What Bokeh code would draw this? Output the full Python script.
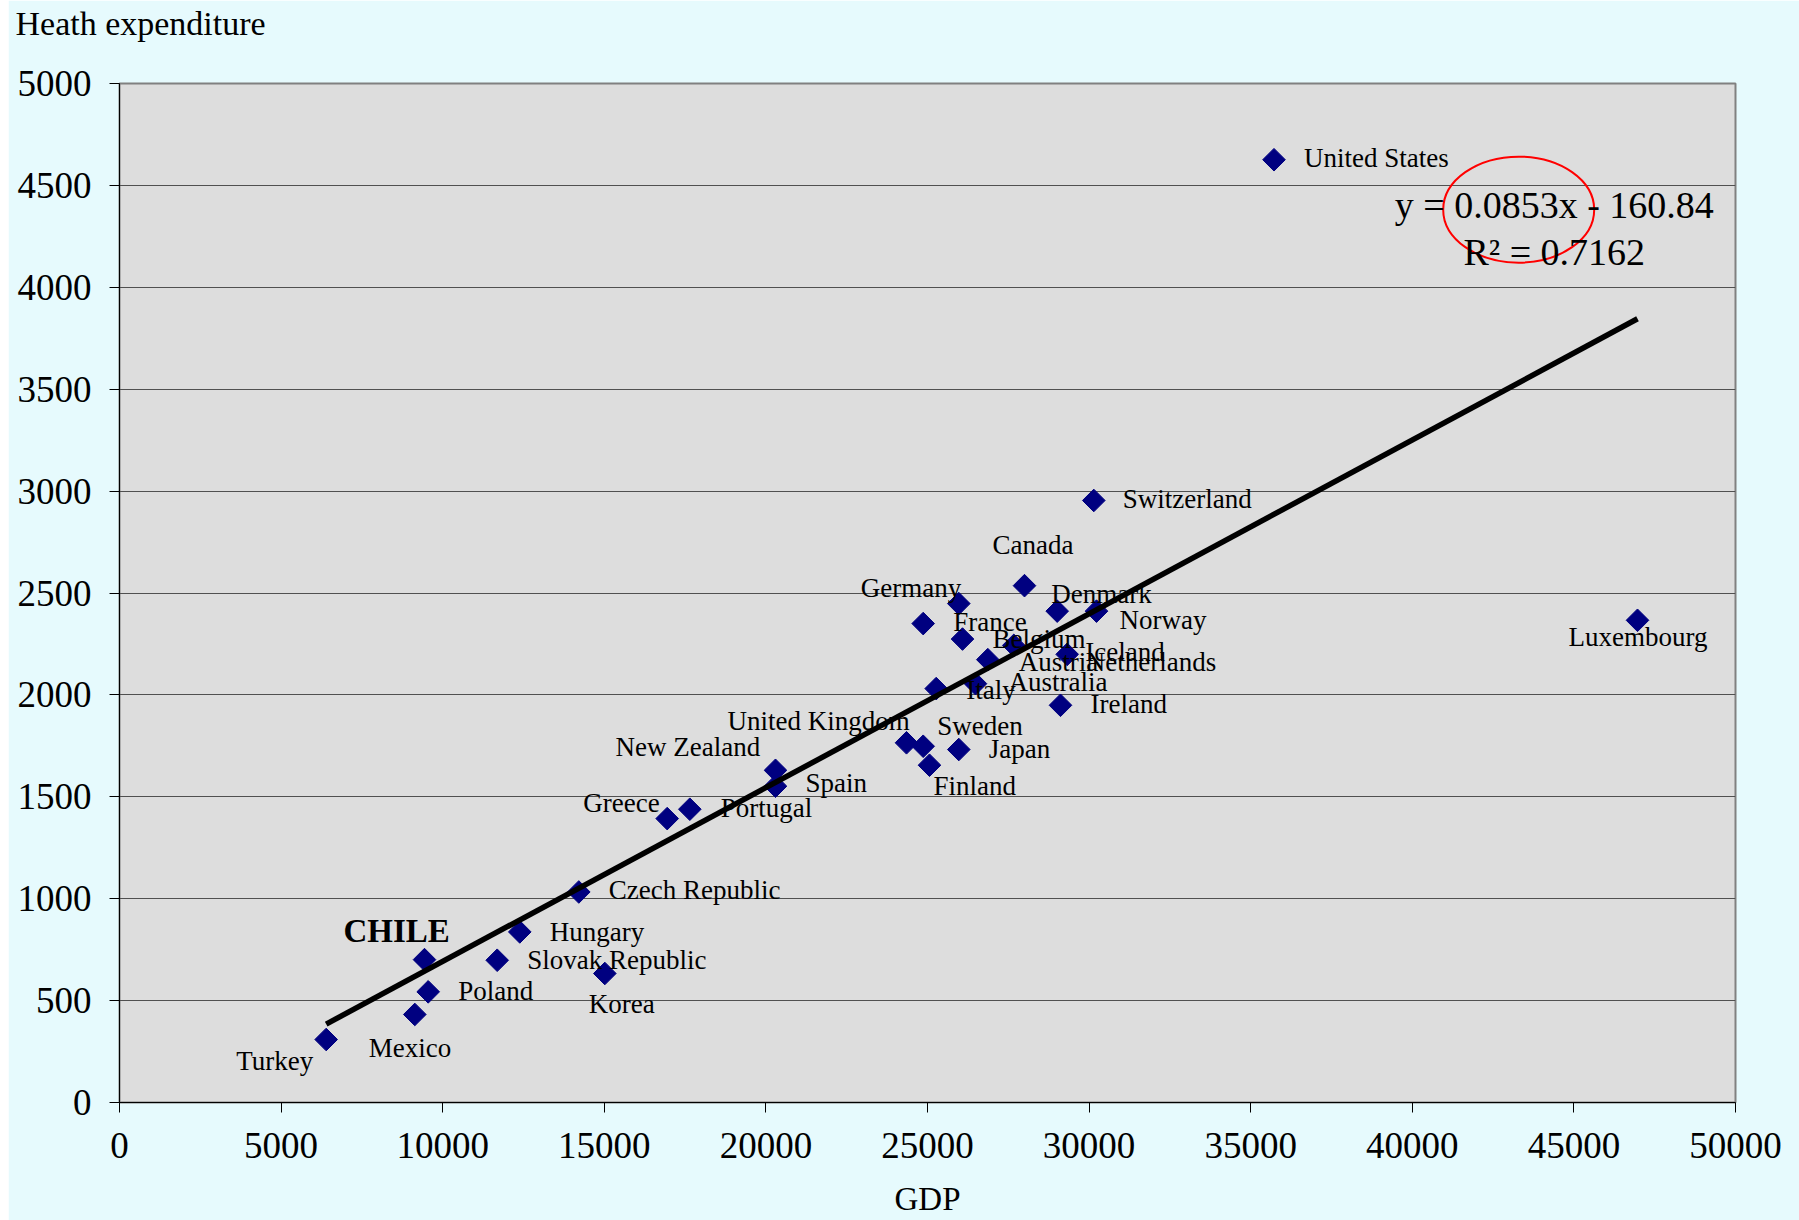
from bokeh.plotting import figure
from bokeh.models import ColumnDataSource, Range1d, Label, FixedTicker, Title
from bokeh.embed import file_html
from bokeh.resources import INLINE
from bokeh.core.properties import value

# ---- data ----
countries = ["Turkey", "Mexico", "Poland", "CHILE", "Slovak Republic", "Hungary", "Korea",
             "Czech Republic", "Greece", "Portugal", "New Zealand", "Spain", "United Kingdom",
             "Sweden", "Finland", "Japan", "Italy", "Australia", "Austria", "Netherlands",
             "Belgium", "France", "Germany", "Iceland", "Ireland", "Denmark", "Norway",
             "Canada", "Switzerland", "United States", "Luxembourg"]
gdp = [6395, 9137, 9551, 9437, 11686, 12385, 15016,
       14211, 16946, 17646, 20297, 20297, 24350,
       24867, 25062, 25968, 25269, 26485, 26866, 27670,
       26083, 24867, 25968, 29322, 29115, 29013, 30229,
       28001, 30145, 35721, 46968]
health = [309, 432, 543, 701, 698, 837, 633,
          1033, 1393, 1439, 1630, 1552, 1765,
          1748, 1655, 1732, 2031, 2055, 2173, 2243,
          2274, 2350, 2448, 2199, 1949, 2411, 2411,
          2536, 2954, 4626, 2366]
trend_slope = 0.0853
trend_intercept = -160.84
r_squared = 0.7162
x_ticks = [0, 5000, 10000, 15000, 20000, 25000, 30000, 35000, 40000, 45000, 50000]
y_ticks = [0, 500, 1000, 1500, 2000, 2500, 3000, 3500, 4000, 4500, 5000]

# ---- label placement (screen pixels relative to each marker) ----
label_dx = [-90, -46, 30, -81, 30, 30, -16,
            30, -84, 31, -160, 30, -179,
            14, 4, 30, 30, 33, 31, 72,
            30, 30, -98, 18, 30, -6, 23,
            -32, 29, 30, -69]
label_dy = [21, 34, -1, -29, 0, 0, 31,
            -2, -16, -1, -23, -3, -22,
            -20, 21, -1, 1, -2, 2, 17,
            0, -2, -16, -2, -1, -17, 9,
            -41, -1, -2, 17]

FONT = "Liberation Serif"
BG = "#E6FAFD"

src = ColumnDataSource(dict(x=gdp, y=health))
normal = [i for i, c in enumerate(countries) if c != "CHILE"]
bold = [i for i, c in enumerate(countries) if c == "CHILE"]


def sub(idx):
    return ColumnDataSource(dict(x=[gdp[i] for i in idx], y=[health[i] for i in idx],
                                 name=[countries[i] for i in idx],
                                 dx=[label_dx[i] for i in idx], dy=[label_dy[i] for i in idx]))


src_norm = sub(normal)
src_bold = sub(bold)

p = figure(width=1791, height=1220,
           x_range=Range1d(0, 50000), y_range=Range1d(0, 5000),
           output_backend="svg", toolbar_location=None,
           min_border_left=111, min_border_right=64, min_border_top=83, min_border_bottom=118)
p.margin = (0, 0, 0, 8)

p.background_fill_color = "#DDDDDD"
p.border_fill_color = BG
p.outline_line_color = "#808080"
p.outline_line_width = 2

# title (y-axis caption, top-left)
p.title.text = "Heath expenditure"
p.title.text_font = FONT
p.title.text_font_size = "34px"
p.title.text_font_style = "normal"
p.title.text_color = "black"
p.title.align = "left"
p.title.offset = -104
p.title.standoff = 0

# invisible spacer between caption and plot area
p.add_layout(Title(text=" ", text_font_size="27px", text_color=BG), "above")

p.xgrid.visible = False
p.ygrid.ticker = FixedTicker(ticks=y_ticks)
p.ygrid.grid_line_color = "#505050"
p.ygrid.grid_line_width = 1

for ax, ticks in ((p.xaxis[0], x_ticks), (p.yaxis[0], y_ticks)):
    ax.ticker = FixedTicker(ticks=ticks)
    ax.axis_line_color = "black"
    ax.axis_line_width = 1
    ax.major_tick_line_color = "black"
    ax.major_tick_out = 10
    ax.major_tick_in = 0
    ax.minor_tick_out = 0
    ax.minor_tick_in = 0
    ax.major_label_text_font = FONT
    ax.major_label_text_font_size = "37px"
    ax.major_label_text_color = "black"
p.xaxis.major_label_standoff = 20
p.yaxis.major_label_standoff = 18

p.xaxis.axis_label = "GDP"
p.xaxis.axis_label_text_font = FONT
p.xaxis.axis_label_text_font_size = "33px"
p.xaxis.axis_label_text_font_style = "normal"
p.xaxis.axis_label_text_color = "black"
p.xaxis.axis_label_standoff = 20

# markers
p.scatter("x", "y", source=src, marker="square", angle=0.785398, size=16,
          fill_color="#000080", line_color="#000080", line_width=1)

# trend line
tx = [min(gdp), max(gdp)]
ty = [trend_slope * v + trend_intercept for v in tx]
p.line(tx, ty, line_color="black", line_width=5.5)

# country labels
p.text("x", "y", text="name", source=src_norm, x_offset="dx", y_offset="dy",
       text_font=value(FONT), text_font_size="27px", text_color="black",
       text_align="left", text_baseline="middle")
p.text("x", "y", text="name", source=src_bold, x_offset="dx", y_offset="dy",
       text_font=value(FONT), text_font_size="33px", text_font_style="bold",
       text_color="black", text_align="left", text_baseline="middle")

# regression equation
p.add_layout(Label(x=44393, y=4403, text=f"y = {trend_slope}x - {abs(trend_intercept)}",
                   text_font=FONT, text_font_size="38px", text_color="black",
                   text_align="center", text_baseline="middle"))
p.add_layout(Label(x=44393, y=4173, text=f"R\u00b2 = {r_squared}",
                   text_font=FONT, text_font_size="38px", text_color="black",
                   text_align="center", text_baseline="middle"))

# red circle highlight
p.ellipse(x=43292, y=4381, width=151, height=106, width_units="screen", height_units="screen",
          fill_alpha=0, line_color="red", line_width=2)

open("out.html", "w").write(file_html(p, INLINE))
